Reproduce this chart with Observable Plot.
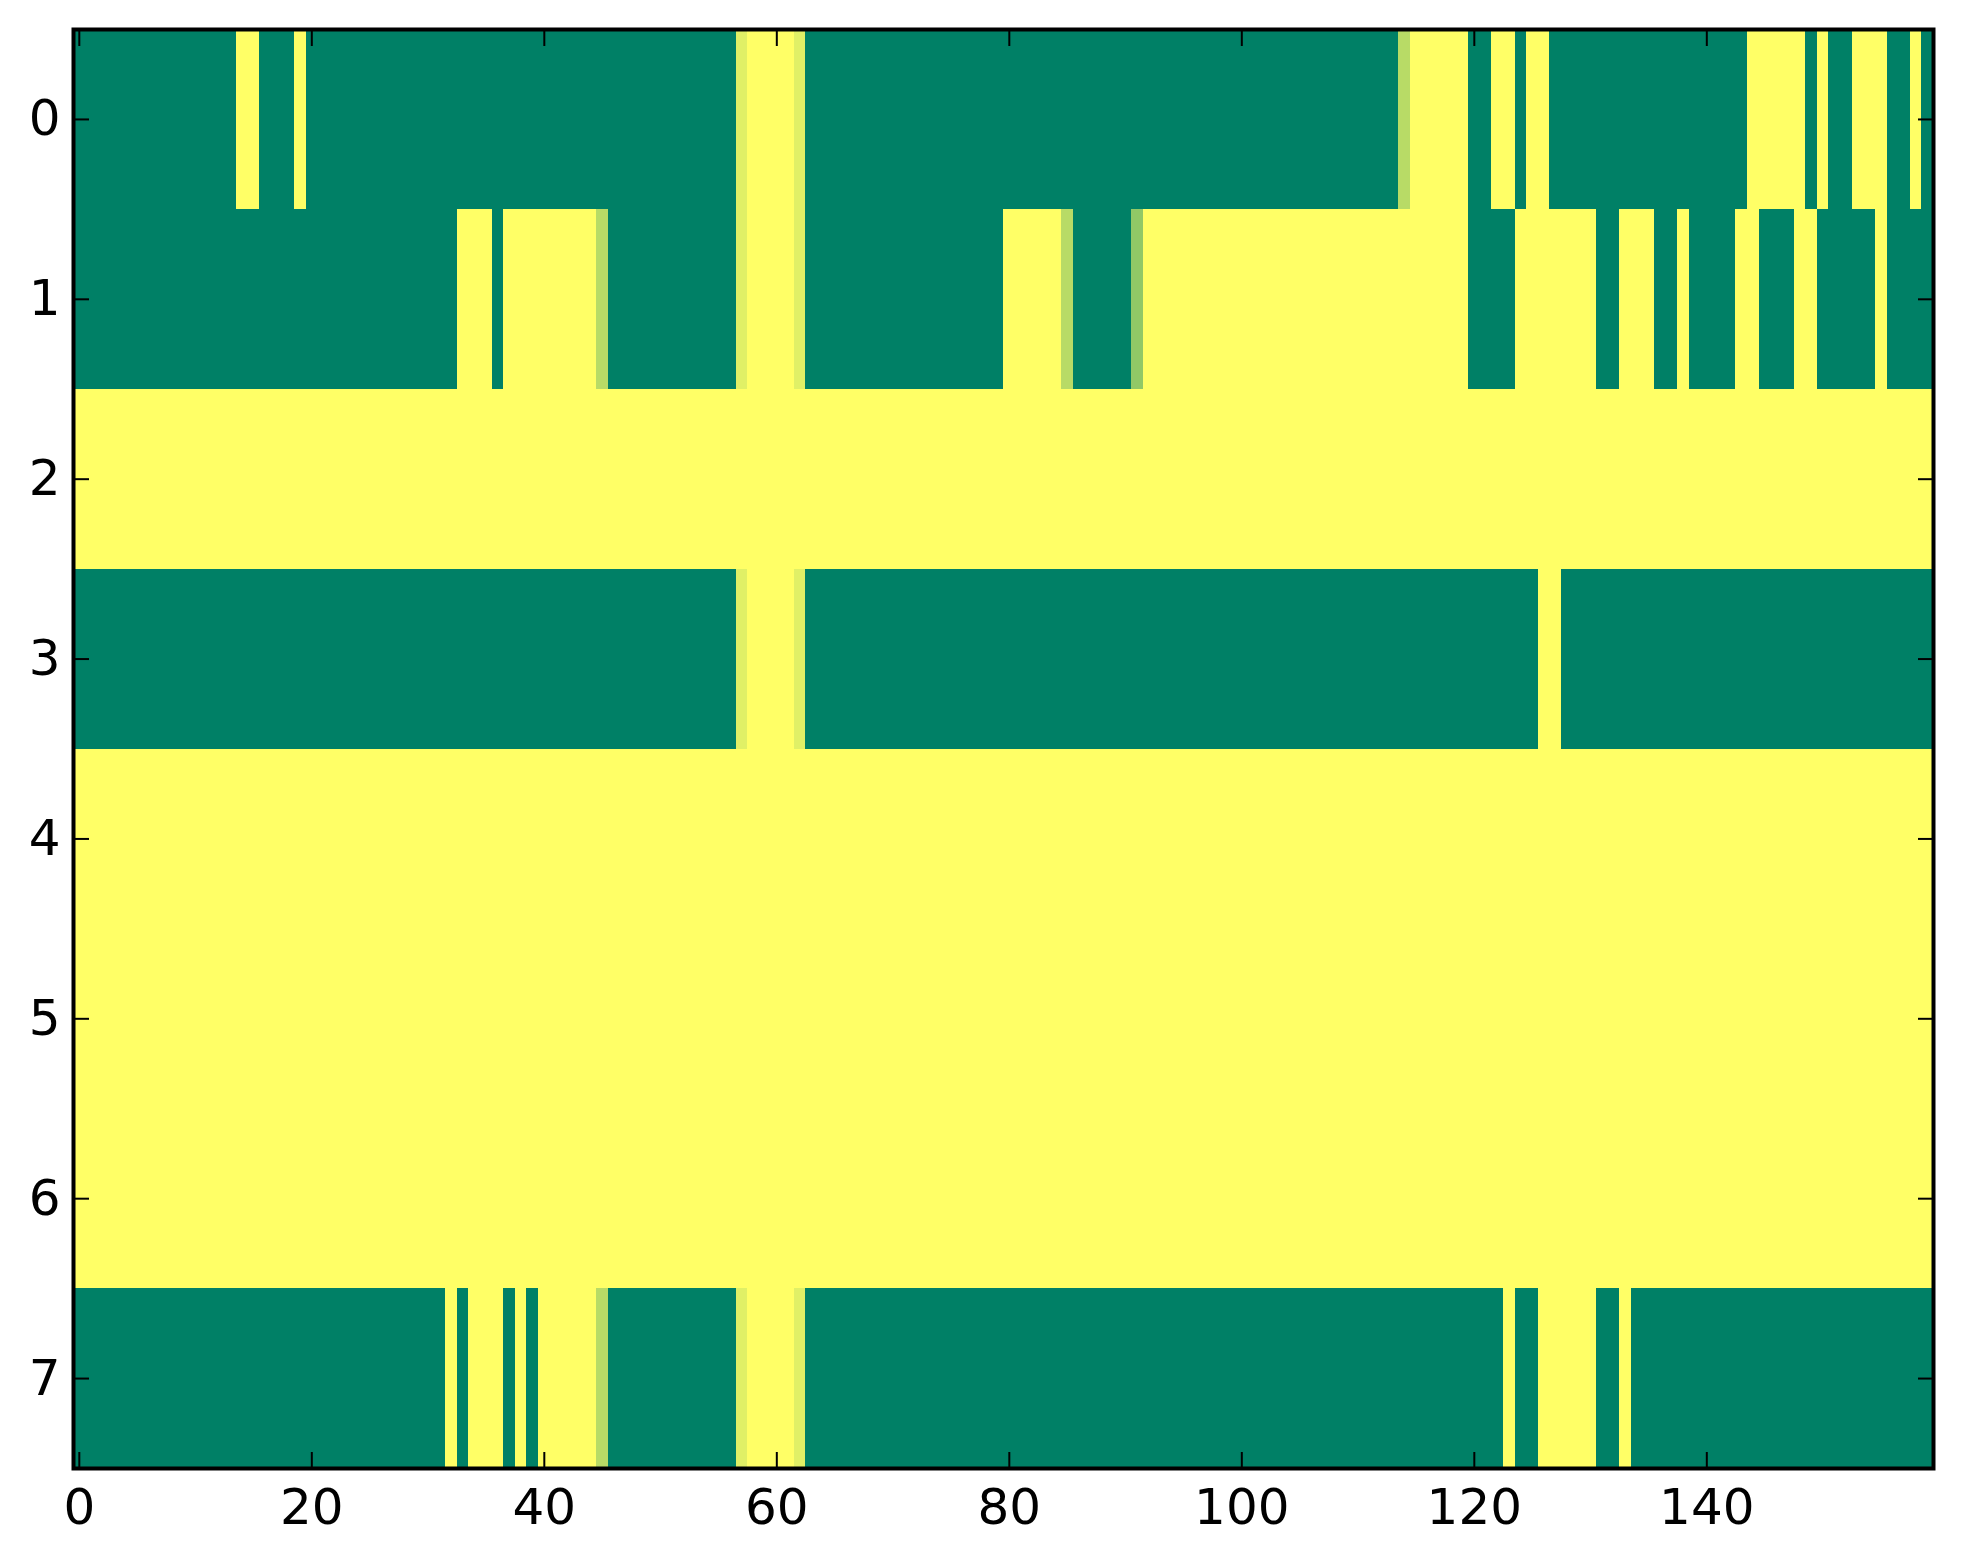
<!DOCTYPE html>
<html>
<head>
<meta charset="utf-8">
<script src="https://cdn.jsdelivr.net/npm/d3@7"></script>
<script src="https://cdn.jsdelivr.net/npm/@observablehq/plot@0.6"></script>
<style>
  html, body { margin: 0; padding: 0; background: #ffffff; overflow: hidden; }
  #chart svg { display: block; }
</style>
</head>
<body>
<div id="chart"></div>
<script>
// Tick labels
const xTickValues = [0, 20, 40, 60, 80, 100, 120, 140];
const yTickValues = [0, 1, 2, 3, 4, 5, 6, 7];

const levels = { "0": 0, "a": 0.57, "b": 0.72, "c": 0.88, "1": 1 };

// Each row: 160 cells, written in blocks of 10 columns
const row0 = ["0000000000","0000110001","0000000000","0000000000","0000000000","0000000c11","11c0000000","0000000000",
              "0000000000","0000000000","0000000000","0000b11111","0011011000","0000000000","0000111110","1001110010"];
const row1 = ["0000000000","0000000000","0000000000","0001110111","11111b0000","0000000c11","11c0000000","0000000000",
              "11111b0000","0a11111111","1111111111","1111111111","0000111111","1001110010","0001100011","0000010000"];
const row2 = ["1111111111","1111111111","1111111111","1111111111","1111111111","1111111111","1111111111","1111111111",
              "1111111111","1111111111","1111111111","1111111111","1111111111","1111111111","1111111111","1111111111"];
const row3 = ["0000000000","0000000000","0000000000","0000000000","0000000000","0000000c11","11c0000000","0000000000",
              "0000000000","0000000000","0000000000","0000000000","0000001100","0000000000","0000000000","0000000000"];
const row4 = ["1111111111","1111111111","1111111111","1111111111","1111111111","1111111111","1111111111","1111111111",
              "1111111111","1111111111","1111111111","1111111111","1111111111","1111111111","1111111111","1111111111"];
const row5 = ["1111111111","1111111111","1111111111","1111111111","1111111111","1111111111","1111111111","1111111111",
              "1111111111","1111111111","1111111111","1111111111","1111111111","1111111111","1111111111","1111111111"];
const row6 = ["1111111111","1111111111","1111111111","1111111111","1111111111","1111111111","1111111111","1111111111",
              "1111111111","1111111111","1111111111","1111111111","1111111111","1111111111","1111111111","1111111111"];
const row7 = ["0000000000","0000000000","0000000000","0010111010","11111b0000","0000000c11","11c0000000","0000000000",
              "0000000000","0000000000","0000000000","0000000000","0001001111","1001000000","0000000000","0000000000"];

const rows = [row0, row1, row2, row3, row4, row5, row6, row7];

// Build the table for Plot
const cells = [];
rows.forEach((blocks, r) => {
  const s = blocks.join("");
  if (s.length !== 160) console.warn("row", r, "has", s.length, "cells");
  [...s].forEach((ch, c) => cells.push({ row: r, col: c, value: levels[ch] }));
});

const nCols = rows[0].join("").length;
const nRows = rows.length;

const tickLen = -16;   // inward ticks
const fontPx = 50;
const fmt = d => String(d);

const chart = Plot.plot({
  width: 1963,
  height: 1564,
  marginLeft: 73,
  marginRight: 30,
  marginTop: 29,
  marginBottom: 96,
  style: {
    fontFamily: "'DejaVu Sans', sans-serif",
    fontSize: fontPx + "px",
    background: "#ffffff",
    color: "#000000"
  },
  x: { type: "linear", domain: [-0.5, nCols - 0.5], ticks: xTickValues, tickFormat: fmt },
  y: { type: "linear", domain: [-0.5, nRows - 0.5], reverse: true, ticks: yTickValues, tickFormat: fmt },
  color: { type: "linear", domain: [0, 1], range: ["#008066", "#ffff66"], interpolate: "rgb" },
  marks: [
    Plot.rect(cells, {
      x1: d => d.col - 0.5, x2: d => d.col + 0.5,
      y1: d => d.row - 0.5, y2: d => d.row + 0.5,
      fill: "value",
      shapeRendering: "crispEdges"
    }),
    Plot.frame({ stroke: "#000000", strokeWidth: 4 }),
    // inward ticks on all four sides
    Plot.axisX(xTickValues, { anchor: "bottom", tickSize: tickLen, strokeWidth: 2, fill: "none", label: null }),
    Plot.axisX(xTickValues, { anchor: "top", tickSize: tickLen, strokeWidth: 2, fill: "none", label: null }),
    Plot.axisY(yTickValues, { anchor: "left", tickSize: tickLen, strokeWidth: 2, fill: "none", label: null }),
    Plot.axisY(yTickValues, { anchor: "right", tickSize: tickLen, strokeWidth: 2, fill: "none", label: null }),
    // tick labels
    Plot.axisX(xTickValues, { anchor: "bottom", tickSize: 0, tickPadding: 20, fontSize: fontPx, tickFormat: fmt, label: null }),
    Plot.axisY(yTickValues, { anchor: "left", tickSize: 0, tickPadding: 13, fontSize: fontPx, tickFormat: fmt, label: null })
  ]
});

document.getElementById("chart").appendChild(chart);
</script>
</body>
</html>
